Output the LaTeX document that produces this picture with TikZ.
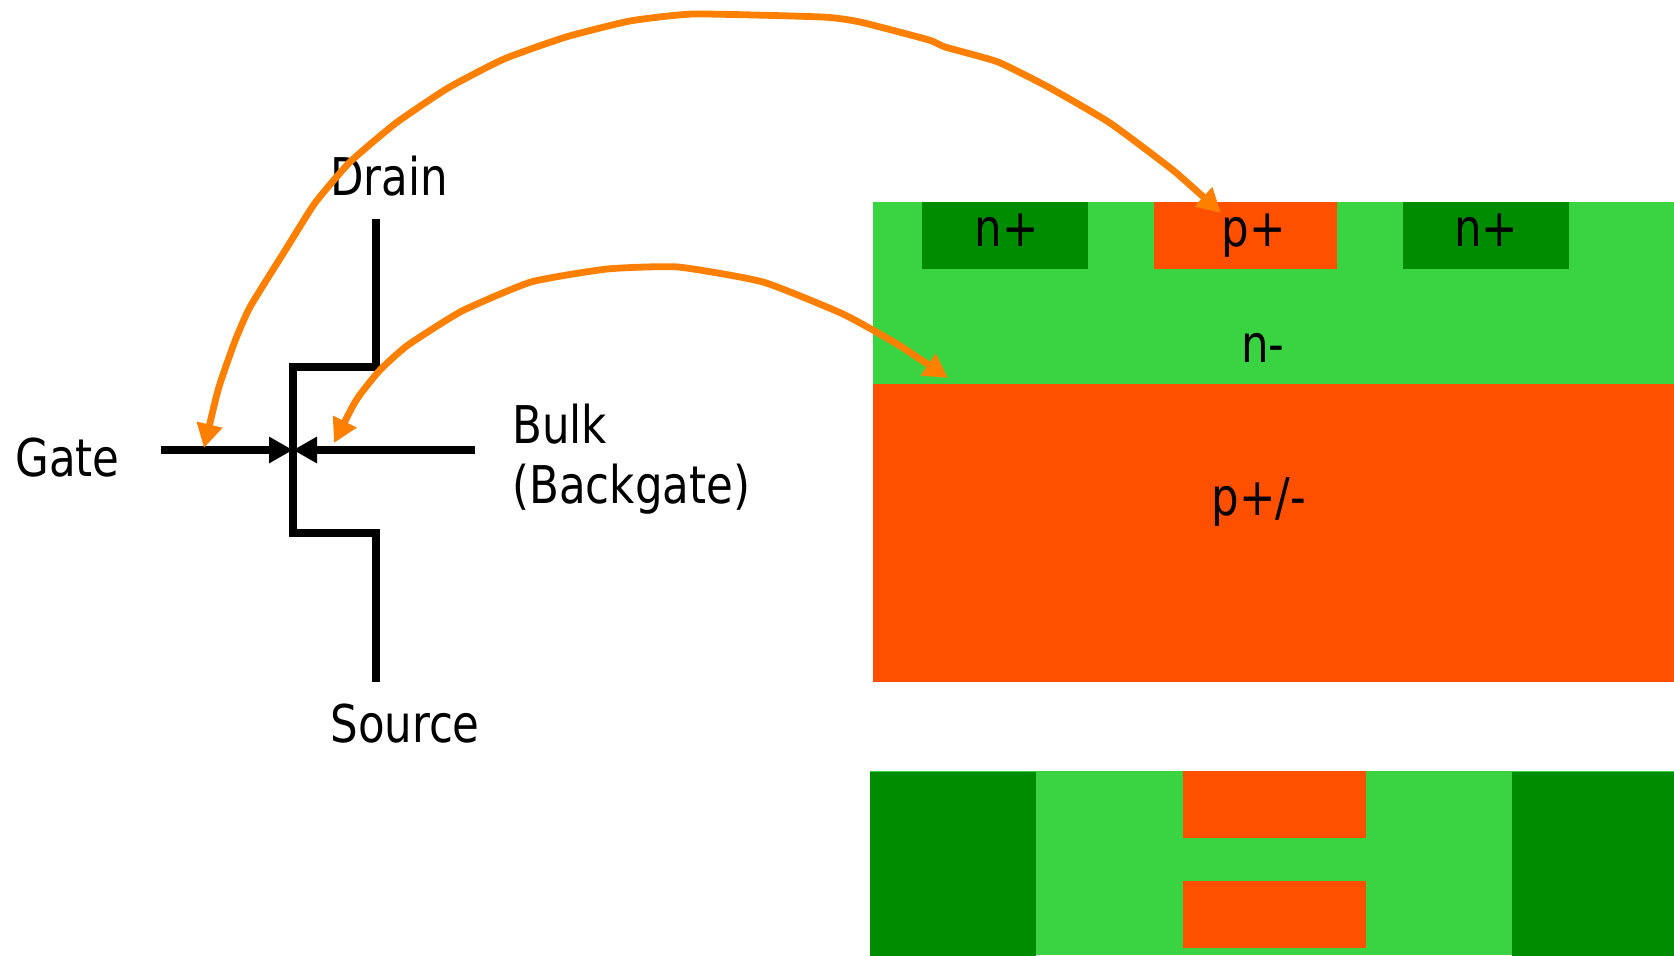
\documentclass[tikz,border=0pt]{standalone}
\usepackage{fontspec}
\setmainfont[FakeStretch=0.93]{DejaVu Sans Condensed}
\usetikzlibrary{arrows.meta}
\definecolor{lgreen}{RGB}{58,212,66}
\definecolor{dgreen}{RGB}{0,140,0}
\definecolor{pred}{RGB}{255,80,0}
\definecolor{arrowor}{RGB}{255,128,0}
\tikzset{
  x=0.5pt,y=-0.5pt,
  lbl/.style={inner sep=0pt,font=\fontsize{26}{26}\selectfont,text=black},
  wire/.style={line width=4pt,draw=black,line cap=butt},
  lead/.style={wire,-{Triangle[length=12pt,width=12.5pt,sep=0pt]},shorten >=0pt},
  link/.style={draw=arrowor,line width=3.4pt,line join=round,
    {Triangle[length=12pt,width=12.5pt]}-{Triangle[length=12pt,width=12.5pt]}},
}
\begin{document}
\begin{tikzpicture}
\useasboundingbox (0,0) rectangle (1674,956);
% upper section
\fill[lgreen] (873,202) rectangle (1674,384);
\fill[dgreen] (922,202) rectangle (1088,269);
\fill[pred] (1154,202) rectangle (1337,269);
\fill[dgreen] (1403,202) rectangle (1569,269);
\fill[pred] (873,384) rectangle (1674,682);
% lower section
\fill[lgreen] (870,771) rectangle (1674,955);
\fill[dgreen] (870,772) rectangle (1036,956);
\fill[dgreen] (1512,772) rectangle (1674,956);
\fill[pred] (1183,771) rectangle (1366,838);
\fill[pred] (1183,881) rectangle (1366,948);
% symbol
\coordinate (dtop) at (376,219);
\coordinate (dcorner) at (376,367);
\coordinate (gtop) at (293,367);
\coordinate (gbot) at (293,533);
\coordinate (scorner) at (376,533);
\coordinate (sbot) at (376,682);
\coordinate (gmid) at (293,450);
\coordinate (gin) at (161,450);
\coordinate (bin) at (475,450);
\draw[wire,line join=miter] (dtop) -- (dcorner) -- (gtop) -- (gbot) -- (scorner) -- (sbot);
\draw[lead] (gin) -- (gmid);
\draw[lead] (bin) -- (gmid);
% labels
\node[lbl,anchor=base west] (drain) at (330,196) {Drain};
\node[lbl,anchor=base west] (gate) at (15,476) {Gate};
\node[lbl,anchor=base west] (bulk) at (512,444) {Bulk};
\node[lbl,anchor=base west] (backgate) at (512,503) {(Backgate)};
\node[lbl,anchor=base west] (source) at (330,742) {Source};
\node[lbl,anchor=base] (n1) at (1007,247) {n+};
\node[lbl,anchor=base] (p1) at (1254,247) {p+};
\node[lbl,anchor=base] (n2) at (1486,247) {n+};
\node[lbl,anchor=base] (nm) at (1263,363) {n-};
\node[lbl,anchor=base] (ppm) at (1259,516) {p+/-};
% curved links
\coordinate (gatept) at (204,448);
\coordinate (pplus) at (1221,213);
\coordinate (bulkpt) at (334,443);
\coordinate (pbody) at (948,378);
\draw[link] plot[smooth,tension=0.3] coordinates {(gatept) (219,387) (235,341) (250,307) (286,249) (315,203) (350,162) (396,123) (448,88) (504,59) (566,37) (630,21) (694,14) (822,17) (860,22) (929,40) (945,47) (998,62) (1050,88) (1110,123) (1174,171) (pplus)};
\draw[link] plot[smooth,tension=0.3] coordinates {(bulkpt) (357,399) (380,370) (408,345) (462,311) (531,282) (607,269) (678,267) (763,282) (843,314) (897,344) (pbody)};
\end{tikzpicture}
\end{document}
